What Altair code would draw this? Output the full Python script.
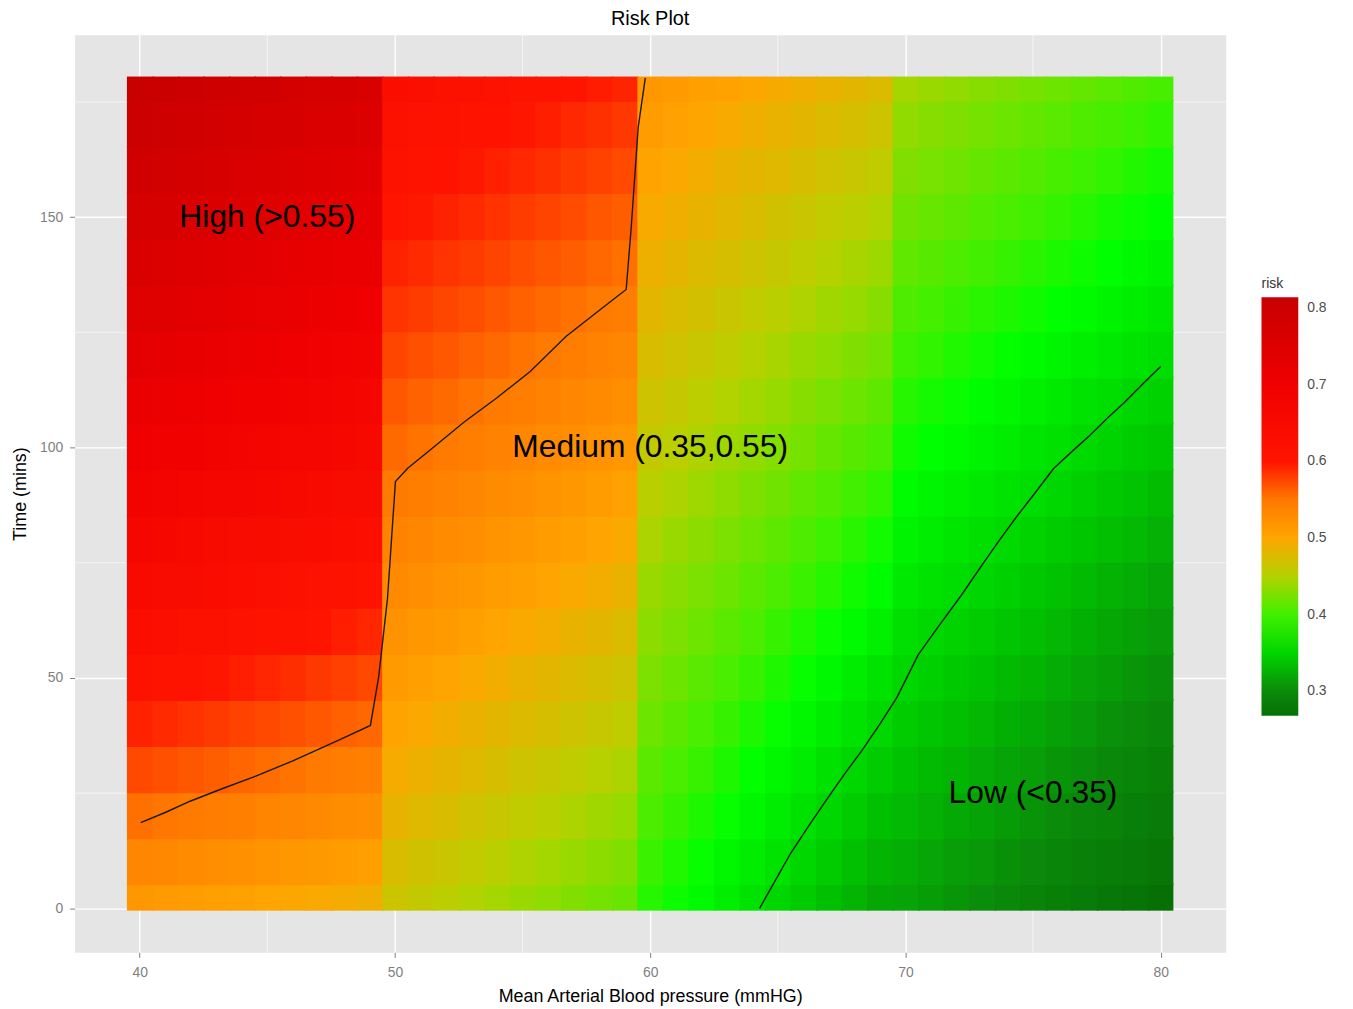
import altair as alt
import pandas as pd

FONT = "Liberation Sans"
TITLE = "Risk Plot"
X_TITLE = "Mean Arterial Blood pressure (mmHG)"
Y_TITLE = "Time (mins)"
LEGEND_TITLE = "risk"

# time rows (mins) at which the risk grid was read
times = [0, 10, 20, 30, 40, 50, 60, 70, 80, 90, 100, 110, 120, 130, 140, 150, 160, 170, 180]

# mean arterial blood pressure columns, grouped by the four bands of the model
map_40s = [40, 41, 42, 43, 44, 45, 46, 47, 48, 49]
map_50s = [50, 51, 52, 53, 54, 55, 56, 57, 58, 59]
map_60s = [60, 61, 62, 63, 64, 65, 66, 67, 68, 69]
map_70s = [70, 71, 72, 73, 74, 75, 76, 77, 78, 79, 80]

# estimated risk, one row per time value (0 .. 180)
risk_40s = [
    [0.515, 0.512, 0.509, 0.507, 0.504, 0.501, 0.498, 0.496, 0.493, 0.490],
    [0.535, 0.532, 0.529, 0.526, 0.523, 0.519, 0.516, 0.513, 0.510, 0.507],
    [0.554, 0.551, 0.547, 0.544, 0.541, 0.537, 0.534, 0.531, 0.527, 0.524],
    [0.574, 0.570, 0.567, 0.563, 0.559, 0.556, 0.552, 0.548, 0.545, 0.541],
    [0.593, 0.589, 0.585, 0.581, 0.577, 0.574, 0.570, 0.566, 0.562, 0.558],
    [0.612, 0.608, 0.604, 0.599, 0.595, 0.591, 0.587, 0.582, 0.578, 0.574],
    [0.630, 0.626, 0.621, 0.617, 0.613, 0.608, 0.604, 0.600, 0.595, 0.591],
    [0.649, 0.644, 0.640, 0.635, 0.630, 0.626, 0.621, 0.616, 0.612, 0.607],
    [0.666, 0.661, 0.656, 0.652, 0.647, 0.642, 0.637, 0.633, 0.628, 0.623],
    [0.684, 0.679, 0.674, 0.669, 0.664, 0.659, 0.654, 0.649, 0.644, 0.639],
    [0.701, 0.696, 0.691, 0.686, 0.681, 0.675, 0.670, 0.665, 0.660, 0.655],
    [0.717, 0.712, 0.707, 0.701, 0.696, 0.691, 0.686, 0.680, 0.675, 0.670],
    [0.733, 0.728, 0.722, 0.717, 0.712, 0.706, 0.701, 0.696, 0.690, 0.685],
    [0.748, 0.743, 0.737, 0.732, 0.726, 0.721, 0.715, 0.710, 0.704, 0.699],
    [0.762, 0.757, 0.751, 0.746, 0.740, 0.735, 0.729, 0.724, 0.718, 0.713],
    [0.776, 0.771, 0.765, 0.760, 0.754, 0.749, 0.743, 0.738, 0.732, 0.727],
    [0.790, 0.784, 0.779, 0.773, 0.768, 0.762, 0.757, 0.751, 0.746, 0.740],
    [0.803, 0.797, 0.792, 0.786, 0.781, 0.775, 0.770, 0.764, 0.759, 0.753],
    [0.814, 0.809, 0.803, 0.798, 0.792, 0.787, 0.781, 0.776, 0.770, 0.766],
]
risk_50s = [
    [0.465, 0.460, 0.455, 0.449, 0.444, 0.439, 0.434, 0.428, 0.423, 0.418],
    [0.474, 0.469, 0.464, 0.459, 0.454, 0.448, 0.443, 0.438, 0.433, 0.428],
    [0.484, 0.479, 0.474, 0.468, 0.463, 0.458, 0.453, 0.447, 0.442, 0.437],
    [0.493, 0.488, 0.483, 0.478, 0.473, 0.467, 0.462, 0.457, 0.452, 0.447],
    [0.502, 0.497, 0.492, 0.487, 0.482, 0.477, 0.472, 0.467, 0.462, 0.457],
    [0.511, 0.506, 0.501, 0.496, 0.491, 0.486, 0.481, 0.476, 0.471, 0.466],
    [0.521, 0.516, 0.511, 0.506, 0.501, 0.496, 0.491, 0.486, 0.481, 0.476],
    [0.530, 0.525, 0.520, 0.515, 0.510, 0.506, 0.501, 0.496, 0.491, 0.486],
    [0.539, 0.534, 0.529, 0.525, 0.520, 0.515, 0.510, 0.506, 0.501, 0.496],
    [0.548, 0.543, 0.538, 0.534, 0.529, 0.524, 0.519, 0.515, 0.510, 0.505],
    [0.557, 0.552, 0.548, 0.543, 0.538, 0.534, 0.529, 0.524, 0.520, 0.515],
    [0.566, 0.561, 0.557, 0.552, 0.548, 0.543, 0.539, 0.534, 0.530, 0.525],
    [0.575, 0.570, 0.566, 0.561, 0.557, 0.552, 0.548, 0.543, 0.539, 0.534],
    [0.584, 0.580, 0.575, 0.571, 0.566, 0.562, 0.557, 0.553, 0.548, 0.544],
    [0.593, 0.589, 0.584, 0.580, 0.576, 0.571, 0.567, 0.563, 0.558, 0.554],
    [0.602, 0.598, 0.593, 0.589, 0.585, 0.580, 0.576, 0.572, 0.567, 0.563],
    [0.611, 0.607, 0.603, 0.598, 0.594, 0.590, 0.586, 0.581, 0.577, 0.573],
    [0.620, 0.616, 0.612, 0.607, 0.603, 0.599, 0.595, 0.590, 0.586, 0.582],
    [0.629, 0.625, 0.621, 0.617, 0.613, 0.608, 0.604, 0.600, 0.596, 0.592],
]
risk_60s = [
    [0.392, 0.384, 0.376, 0.368, 0.360, 0.351, 0.343, 0.335, 0.327, 0.319],
    [0.398, 0.390, 0.382, 0.374, 0.366, 0.359, 0.351, 0.343, 0.335, 0.327],
    [0.405, 0.397, 0.389, 0.382, 0.374, 0.366, 0.358, 0.351, 0.343, 0.335],
    [0.412, 0.404, 0.397, 0.389, 0.381, 0.374, 0.366, 0.358, 0.351, 0.343],
    [0.419, 0.412, 0.404, 0.397, 0.389, 0.382, 0.374, 0.367, 0.359, 0.352],
    [0.426, 0.419, 0.411, 0.404, 0.397, 0.389, 0.382, 0.375, 0.367, 0.360],
    [0.433, 0.426, 0.419, 0.412, 0.405, 0.397, 0.390, 0.383, 0.376, 0.369],
    [0.439, 0.432, 0.425, 0.419, 0.412, 0.405, 0.398, 0.392, 0.385, 0.378],
    [0.446, 0.439, 0.433, 0.426, 0.419, 0.413, 0.406, 0.399, 0.393, 0.386],
    [0.453, 0.447, 0.440, 0.434, 0.427, 0.421, 0.414, 0.408, 0.401, 0.395],
    [0.460, 0.454, 0.448, 0.441, 0.435, 0.429, 0.423, 0.416, 0.410, 0.404],
    [0.467, 0.461, 0.455, 0.449, 0.443, 0.437, 0.431, 0.425, 0.419, 0.413],
    [0.474, 0.468, 0.462, 0.457, 0.451, 0.445, 0.439, 0.434, 0.428, 0.422],
    [0.481, 0.475, 0.470, 0.464, 0.459, 0.453, 0.448, 0.442, 0.437, 0.431],
    [0.488, 0.483, 0.477, 0.472, 0.467, 0.461, 0.456, 0.451, 0.445, 0.440],
    [0.495, 0.490, 0.485, 0.480, 0.475, 0.469, 0.464, 0.459, 0.454, 0.449],
    [0.502, 0.497, 0.492, 0.487, 0.482, 0.478, 0.473, 0.468, 0.463, 0.458],
    [0.509, 0.504, 0.500, 0.495, 0.490, 0.486, 0.481, 0.476, 0.472, 0.467],
    [0.516, 0.512, 0.507, 0.503, 0.499, 0.494, 0.490, 0.486, 0.481, 0.477],
]
risk_70s = [
    [0.317, 0.312, 0.307, 0.302, 0.297, 0.292, 0.288, 0.283, 0.278, 0.273, 0.268],
    [0.323, 0.318, 0.313, 0.309, 0.304, 0.299, 0.294, 0.289, 0.285, 0.280, 0.275],
    [0.330, 0.325, 0.320, 0.316, 0.311, 0.306, 0.301, 0.296, 0.292, 0.287, 0.282],
    [0.336, 0.331, 0.327, 0.322, 0.317, 0.313, 0.308, 0.303, 0.298, 0.294, 0.289],
    [0.343, 0.338, 0.334, 0.329, 0.324, 0.320, 0.315, 0.310, 0.305, 0.301, 0.296],
    [0.350, 0.345, 0.341, 0.336, 0.331, 0.327, 0.322, 0.317, 0.312, 0.308, 0.303],
    [0.357, 0.352, 0.348, 0.343, 0.338, 0.334, 0.329, 0.324, 0.319, 0.315, 0.310],
    [0.364, 0.359, 0.355, 0.350, 0.345, 0.341, 0.336, 0.331, 0.326, 0.322, 0.317],
    [0.371, 0.366, 0.362, 0.357, 0.353, 0.348, 0.343, 0.339, 0.334, 0.330, 0.325],
    [0.378, 0.373, 0.369, 0.364, 0.360, 0.355, 0.350, 0.346, 0.341, 0.337, 0.332],
    [0.385, 0.380, 0.376, 0.371, 0.367, 0.362, 0.358, 0.353, 0.349, 0.344, 0.340],
    [0.392, 0.387, 0.383, 0.378, 0.374, 0.369, 0.365, 0.360, 0.356, 0.351, 0.347],
    [0.399, 0.395, 0.390, 0.386, 0.381, 0.377, 0.373, 0.368, 0.364, 0.359, 0.355],
    [0.406, 0.402, 0.397, 0.393, 0.389, 0.385, 0.380, 0.376, 0.372, 0.367, 0.363],
    [0.414, 0.410, 0.405, 0.401, 0.397, 0.393, 0.388, 0.384, 0.380, 0.375, 0.371],
    [0.421, 0.417, 0.413, 0.408, 0.404, 0.400, 0.396, 0.392, 0.387, 0.383, 0.379],
    [0.428, 0.424, 0.420, 0.416, 0.412, 0.408, 0.403, 0.399, 0.395, 0.391, 0.387],
    [0.435, 0.431, 0.427, 0.423, 0.419, 0.415, 0.411, 0.407, 0.403, 0.399, 0.395],
    [0.443, 0.439, 0.435, 0.431, 0.427, 0.423, 0.419, 0.415, 0.411, 0.407, 0.403],
]

# contour at risk 0.55 (upper-left) and 0.35 (lower-right)
contour_hi_map = [40.04, 41.0, 42.0, 43.2, 44.5, 46.0, 47.8, 49.04, 49.36, 49.71, 50.02,
                  50.5, 51.5, 52.7, 54.0, 55.3, 56.7, 58.2, 59.06, 59.26, 59.53, 59.81]
contour_hi_time = [18.6, 20.8, 23.3, 25.9, 28.6, 32.0, 36.5, 39.7, 50.1, 67.3, 92.6,
                   95.5, 100.0, 105.5, 110.8, 116.5, 124.1, 130.6, 134.3, 147.9, 169.4, 180.2]
contour_lo_map = [64.29, 64.9, 65.5, 66.2, 66.9, 67.6, 68.3, 69.0, 69.67, 70.5, 71.34, 72.2,
                  73.0, 73.7, 74.4, 75.1, 75.8, 76.5, 77.2, 77.9, 78.6, 79.3, 80.0]
contour_lo_time = [0.0, 6.0, 11.9, 17.8, 23.5, 29.0, 34.3, 40.0, 45.8, 55.0, 61.5, 68.0,
                   74.5, 80.0, 85.3, 90.3, 95.4, 99.0, 102.5, 106.3, 109.9, 113.8, 117.6]

# region annotations
region_labels = ["High (>0.55)", "Medium (0.35,0.55)", "Low (<0.35)"]
region_map = [45, 60, 75]
region_time = [150, 100, 25]

# axes / legend ticks
x_ticks = [40, 50, 60, 70, 80]
y_ticks = [0, 50, 100, 150]
x_minor = [45, 55, 65, 75]
y_minor = [25, 75, 125, 175]
legend_ticks = [0.3, 0.4, 0.5, 0.6, 0.7, 0.8]

# colour ramp
color_stops = [0.268, 0.30, 0.34, 0.38, 0.40, 0.45, 0.50, 0.55, 0.60, 0.70, 0.814]
color_hex = ["#067006", "#0A8A0A", "#00C800", "#00FF00", "#40F000", "#B4D200",
             "#FFA500", "#FF7800", "#FF1400", "#F00000", "#C80000"]

# ---------------------------------------------------------------- tables
recs = []
for maps, grid in ((map_40s, risk_40s), (map_50s, risk_50s),
                   (map_60s, risk_60s), (map_70s, risk_70s)):
    for t, row in zip(times, grid):
        for m, r in zip(maps, row):
            recs.append({"map": m, "time": t, "risk": r})
tiles = pd.DataFrame(recs)
# each cell spans +-0.5 mmHg and +-5 min; a tiny overlap onto the next
# (later-drawn) cell hides antialiasing seams between neighbouring cells
last_map, last_time = map_70s[-1], times[-1]
tiles["x0"] = tiles["map"] - 0.5
tiles["x1"] = tiles["map"] + 0.5 + (tiles["map"] < last_map) * 0.06
tiles["y0"] = (tiles["time"] - 5).clip(lower=-0.5)
tiles["y1"] = (tiles["time"] + 5 + (tiles["time"] < last_time) * 0.4).clip(upper=180.5)
tiles = tiles.sort_values(["time", "map"]).reset_index(drop=True)

contours = pd.concat([
    pd.DataFrame({"x0": contour_hi_map, "y0": contour_hi_time, "level": "0.55",
                  "order": range(len(contour_hi_map))}),
    pd.DataFrame({"x0": contour_lo_map, "y0": contour_lo_time, "level": "0.35",
                  "order": range(len(contour_lo_map))}),
])
notes = pd.DataFrame({"x0": region_map, "y0": region_time, "label": region_labels})
vgrid = pd.DataFrame({"x0": x_minor})
hgrid = pd.DataFrame({"y0": y_minor})

# ---------------------------------------------------------------- scales
xscale = alt.Scale(domain=[37.45, 82.55], nice=False, zero=False)
yscale = alt.Scale(domain=[-9.55, 189.55], nice=False, zero=False)
cscale = alt.Scale(domain=color_stops, range=color_hex, interpolate="rgb",
                   clamp=True, zero=False, nice=False)

axis_common = dict(grid=True, gridColor="white", gridWidth=1.4, domain=False,
                   tickColor="#7F7F7F", tickSize=5, labelColor="#7F7F7F",
                   labelFontSize=14, labelFont=FONT,
                   titleFont=FONT, titleFontSize=18, titleFontWeight="normal",
                   titleColor="black")
xaxis = alt.Axis(values=x_ticks, format="d", title=X_TITLE, labelPadding=8,
                 titlePadding=8, **axis_common)
yaxis = alt.Axis(values=y_ticks, format="d", title=Y_TITLE, labelPadding=7,
                 titlePadding=10, **axis_common)


def X(field="x0:Q"):
    return alt.X(field, scale=xscale, axis=xaxis)


def Y(field="y0:Q"):
    return alt.Y(field, scale=yscale, axis=yaxis)


minor_v = alt.Chart(vgrid).mark_rule(color="white", strokeWidth=0.6).encode(x=X())
minor_h = alt.Chart(hgrid).mark_rule(color="white", strokeWidth=0.6).encode(y=Y())

heat = alt.Chart(tiles).mark_rect().encode(
    x=X(), x2="x1:Q", y=Y(), y2="y1:Q",
    color=alt.Color("risk:Q", scale=cscale, legend=alt.Legend(
        type="gradient", title=LEGEND_TITLE, orient="none", legendX=1194, legendY=244,
        direction="vertical", gradientLength=421, gradientThickness=37,
        values=legend_ticks, format=".1f", labelFontSize=14, labelColor="#4D4D4D",
        labelFont=FONT, labelOffset=9, titleFont=FONT, titleFontSize=14,
        titleFontWeight="normal", titleColor="#333333", titlePadding=6,
        gradientStrokeWidth=0)),
)

lines = alt.Chart(contours).mark_line(color="#1A1A1A", strokeWidth=1.4).encode(
    x=X(), y=Y(), detail="level:N", order="order:Q")

texts = alt.Chart(notes).mark_text(fontSize=32, font=FONT, color="black").encode(
    x=X(), y=Y(), text="label:N")

chart = alt.layer(minor_v, minor_h, heat, lines, texts).properties(
    width=1158, height=923,
    title=alt.TitleParams(text=TITLE, fontSize=20, fontWeight="normal", color="black",
                          anchor="middle", offset=6, font=FONT),
    autosize=alt.AutoSizeParams(type="none"),
    padding={"left": 67, "top": 24, "right": 120, "bottom": 60},
).configure(font=FONT).configure_view(fill="#E5E5E5", stroke="transparent")

chart.save("out.html", embed_options={"renderer": "svg", "actions": False})
